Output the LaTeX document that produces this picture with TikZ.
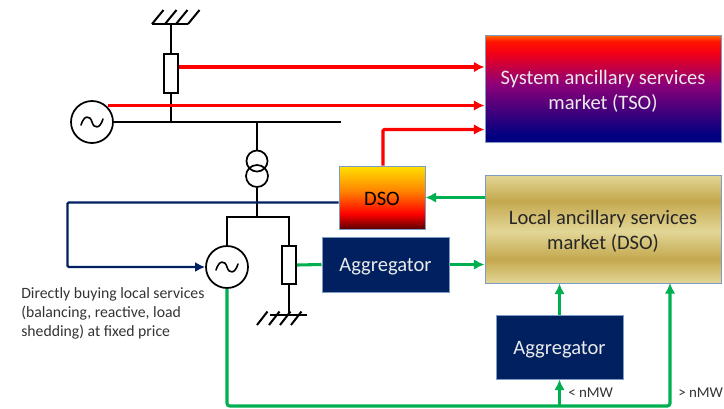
\documentclass[tikz,border=0pt]{standalone}
\usepackage{fontspec}
\setmainfont{Carlito}
\usetikzlibrary{arrows.meta,calc,shadows}
\definecolor{gr}{HTML}{00B050}
\definecolor{rd}{HTML}{FF0000}
\definecolor{nv}{HTML}{002060}
\definecolor{edge}{HTML}{7C9CC4}
\definecolor{tA}{RGB}{0,0,128}
\definecolor{tB}{RGB}{140,0,120}
\definecolor{tC}{RGB}{245,0,20}
\definecolor{tD}{RGB}{255,20,0}
\definecolor{tE}{RGB}{255,110,0}
\definecolor{dA}{RGB}{90,0,0}
\definecolor{dB}{RGB}{255,0,0}
\definecolor{dC}{RGB}{255,130,0}
\definecolor{dD}{RGB}{255,225,0}
\definecolor{lA}{RGB}{226,214,150}
\definecolor{lB}{RGB}{196,168,78}
\pgfdeclareverticalshading{tsoshade}{100bp}{
 color(0bp)=(tA); color(25bp)=(tA); color(28bp)=(tA);
 color(52bp)=(tB); color(67bp)=(tC); color(72bp)=(tD);
 color(75bp)=(tE); color(100bp)=(tE)}
\pgfdeclareverticalshading{dsoshade}{100bp}{
 color(0bp)=(dA); color(25bp)=(dA); color(37bp)=(dB);
 color(55bp)=(dC); color(75bp)=(dD); color(100bp)=(dD)}
\pgfdeclareverticalshading{locshade}{100bp}{
 color(0bp)=(lA); color(25bp)=(lA); color(36bp)=(lB);
 color(49bp)=(lA); color(63bp)=(lB); color(75bp)=(lA); color(100bp)=(lA)}
\tikzset{
 x=0.75pt,y=-0.75pt,
 pxbox/.style 2 args={minimum width=#1*0.75pt,minimum height=#2*0.75pt,inner sep=0pt,
   draw=edge,line width=0.75pt,drop shadow={shadow xshift=0.6pt,shadow yshift=-0.6pt,opacity=0.25,fill=black}},
 bigtxt/.style={font=\fontsize{15.4}{18.8}\selectfont,align=center,inner sep=0pt,yshift=-1.9pt},
 wire/.style={black,line width=1.5pt},
 sym/.style={draw=black,line width=1.3pt,fill=white,inner sep=0pt},
 redarrow/.style={rd,line width=2.3pt,-{Latex[length=8pt,width=8pt]}},
 greenarrow/.style={gr,line width=2.3pt,-{Latex[length=8pt,width=8pt]}},
 greenline/.style={gr,line width=2.3pt},
 navyline/.style={nv,line width=1.7pt},
 small/.style={font=\fontsize{11.8}{14.3}\selectfont,text=black!80,inner sep=0pt,align=left},
 tiny label/.style={font=\fontsize{11.2}{14}\selectfont,text=black!80,inner sep=0pt},
}
\begin{document}
\begin{tikzpicture}
\useasboundingbox (0,0) rectangle (724,408);
% boxes
\node[pxbox={236}{107},shading=tsoshade,label={[bigtxt,text=white!92!black]center:System ancillary services\\market (TSO)}] (tso) at (603,88.5) {};
\node[pxbox={236}{108},shading=locshade,label={[bigtxt,text=black!85]center:Local ancillary services\\market (DSO)}] (loc) at (603,229) {};
\node[pxbox={86}{63},shading=dsoshade,label={[bigtxt,text=black,yshift=1.2pt]center:DSO}] (dso) at (382,197.5) {};
\node[pxbox={127}{55},fill=nv,label={[bigtxt,text=white!92!black]center:Aggregator}] (ag1) at (385.5,264.5) {};
\node[pxbox={127}{64},fill=nv,label={[bigtxt,text=white!92!black]center:Aggregator}] (ag2) at (559.5,347) {};
% grid symbols
\node[sym,circle,minimum size=31.5pt] (gen1) at (92,122) {};
\node[sym,circle,minimum size=31.5pt] (gen2) at (227,267) {};
\node[sym,minimum width=11pt,minimum height=29pt] (res1) at (171,73.5) {};
\node[sym,minimum width=11pt,minimum height=28.5pt] (res2) at (289,265) {};
\node[draw=black,line width=1.3pt,circle,minimum size=15.8pt,inner sep=0pt] (tr1) at (257,161) {};
\node[draw=black,line width=1.3pt,circle,minimum size=16.5pt,inner sep=0pt] (tr2) at (257,176) {};
\coordinate (gnd1) at (171,24);
\coordinate (gnd2) at (289,315);
\coordinate (busend) at (341,122);
\coordinate (split) at (257,217);
% sine waves
\draw[line width=1.2pt,line cap=round] (81,125) .. controls (84,115) and (90,115) .. (92,122) .. controls (94,129) and (100,129) .. (103,119);
\draw[line width=1.2pt,line cap=round] (216,270) .. controls (219,260) and (225,260) .. (227,267) .. controls (229,274) and (235,274) .. (238,264);
% black wires
\draw[wire] (gen1.east) -- (busend);
\draw[wire] (res1.south) -- (res1.south |- busend);
\draw[wire] (gnd1) -- (res1.north);
\draw[wire] (152,24) -- (188,24);
\foreach \a in {152,165,176,188} \draw[wire] (\a,24) -- ++(11.5,-14);
\draw[wire] (tr1 |- busend) -- (tr1.north);
\draw[wire] (tr2.south) -- (split);
\draw[wire] (gen2.north) |- (split) -| (res2.north);
\draw[wire] (res2.south) -- (gnd2);
\draw[wire] (270,315) -- (307,315);
\foreach \a in {257,269,280,291} \draw[wire] (\a,325) -- ++(10.5,-13.5);
% red
\draw[redarrow] (res1.east |- 0,67) -- (tso.west |- 0,67);
\draw[redarrow] (108,105.5) -- (tso.west |- 0,105.5);
\draw[redarrow,rounded corners=1pt] (dso.north -| 383,0) |- (tso.west |- 0,129.5);
% navy
\draw[navyline,-{Latex[length=7.5pt,width=7.5pt]},rounded corners=1pt] (dso.west |- 0,202.5) -| (67.5,267) -- (gen2.west);
% green
\draw[greenarrow] (loc.west |- dso.east) -- (dso.east);
\draw[greenline] (res2.east) -- (ag1.west);
\draw[greenarrow] (ag1.east) -- (loc.west |- ag1.east);
\draw[greenarrow] (ag2.north) -- (loc.south -| ag2.north);
\draw[greenarrow,rounded corners=2pt] (gen2.south) |- (670,406) -- (670,283);
\draw[greenarrow] (ag2.south |- 0,406) -- (ag2.south);
% text
\node[small,anchor=north west] (note) at (21,287) {Directly buying local services\\(balancing, reactive, load\\shedding) at fixed price};
\node[tiny label,anchor=west] (lt) at (568,393) {< nMW};
\node[tiny label,anchor=west] (gt) at (678,393) {> nMW};
\end{tikzpicture}
\end{document}
